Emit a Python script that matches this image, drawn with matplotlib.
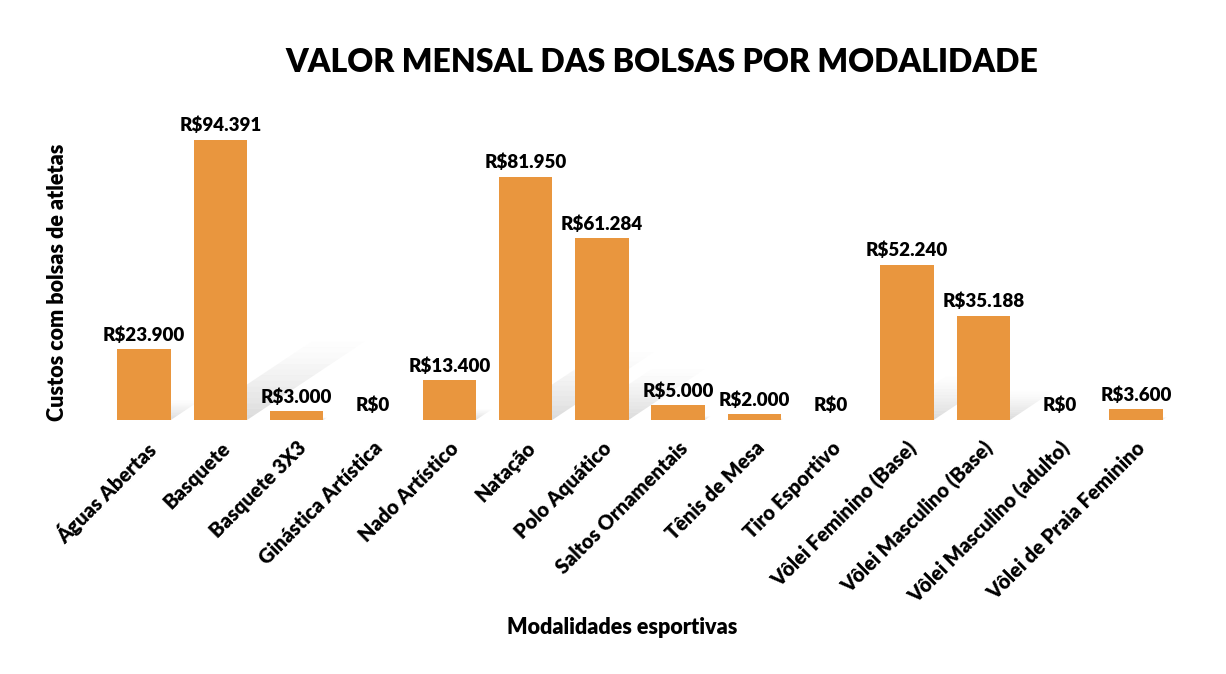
import matplotlib
matplotlib.use("Agg")
import matplotlib.pyplot as plt
import numpy as np

# data
modalidades = ["Águas Abertas", "Basquete", "Basquete 3X3", "Ginástica Artística",
               "Nado Artístico", "Natação", "Polo Aquático", "Saltos Ornamentais",
               "Tênis de Mesa", "Tiro Esportivo", "Vôlei Feminino (Base)",
               "Vôlei Masculino (Base)", "Vôlei Masculino (adulto)", "Vôlei de Praia Feminino"]
valores = [23900, 94391, 3000, 0, 13400, 81950, 61284, 5000, 2000, 0, 52240, 35188, 0, 3600]

BAR_COLOR = "#E9963E"
WEIGHT = "heavy"
plt.rcParams['font.family'] = ['Lato', 'DejaVu Sans']


def fmt_brl(v):
    return "R$" + f"{v:,.0f}".replace(",", ".")


fig = plt.figure(figsize=(12.26, 6.74), dpi=100)
ax = fig.add_axes([106 / 1226, 1 - 420 / 674, 1068 / 1226, 320 / 674])

x = np.arange(len(modalidades))
width = 0.7
ymax = 94391 * 320 / 280
ax.set_xlim(-0.5, len(modalidades) - 0.5)
ax.set_ylim(0, ymax)

# soft perspective shadows behind the bars
px_per_unit_y = 320 / ymax
px_per_cat = 1068 / len(modalidades)
for xi, v in zip(x, valores):
    if v <= 0:
        continue
    h = 0.28 * v
    dx = 1.5 * (h * px_per_unit_y) / px_per_cat
    n = 14
    for k in range(n):
        t0, t1 = k / n, (k + 1) / n
        xs = [xi - width / 2 + dx * t0, xi + width / 2 + dx * t0,
              xi + width / 2 + dx * t1, xi - width / 2 + dx * t1]
        ys = [h * t0, h * t0, h * t1, h * t1]
        ax.fill(xs, ys, color="#9a9a9a", alpha=0.34 * (1 - t0) ** 1.3, lw=0, zorder=1)

ax.bar(x, valores, width=width, color=BAR_COLOR, zorder=3)

for xi, v in zip(x, valores):
    ax.annotate(fmt_brl(v), (xi, v), xytext=(0, 4), textcoords="offset points",
                ha="center", va="bottom", fontsize=13.5, fontweight=WEIGHT, zorder=4)

for s in ax.spines.values():
    s.set_visible(False)
ax.set_yticks([])
ax.set_xticks(x)
ax.set_xticklabels(modalidades, rotation=45, ha="right", rotation_mode="anchor",
                   fontsize=14.5, fontweight=WEIGHT)
ax.tick_params(axis="x", length=0, pad=13)

fig.text(662 / 1226, 1 - 62 / 674, "VALOR MENSAL DAS BOLSAS POR MODALIDADE",
         ha="center", va="center", fontsize=23, fontweight=WEIGHT)
fig.text(622 / 1226, 1 - 628 / 674, "Modalidades esportivas",
         ha="center", va="center", fontsize=15.5, fontweight=WEIGHT)
fig.text(58 / 1226, 1 - 282 / 674, "Custos com bolsas de atletas",
         ha="center", va="center", rotation=90, fontsize=15.5, fontweight=WEIGHT)

fig.savefig("out.png", dpi=100)
